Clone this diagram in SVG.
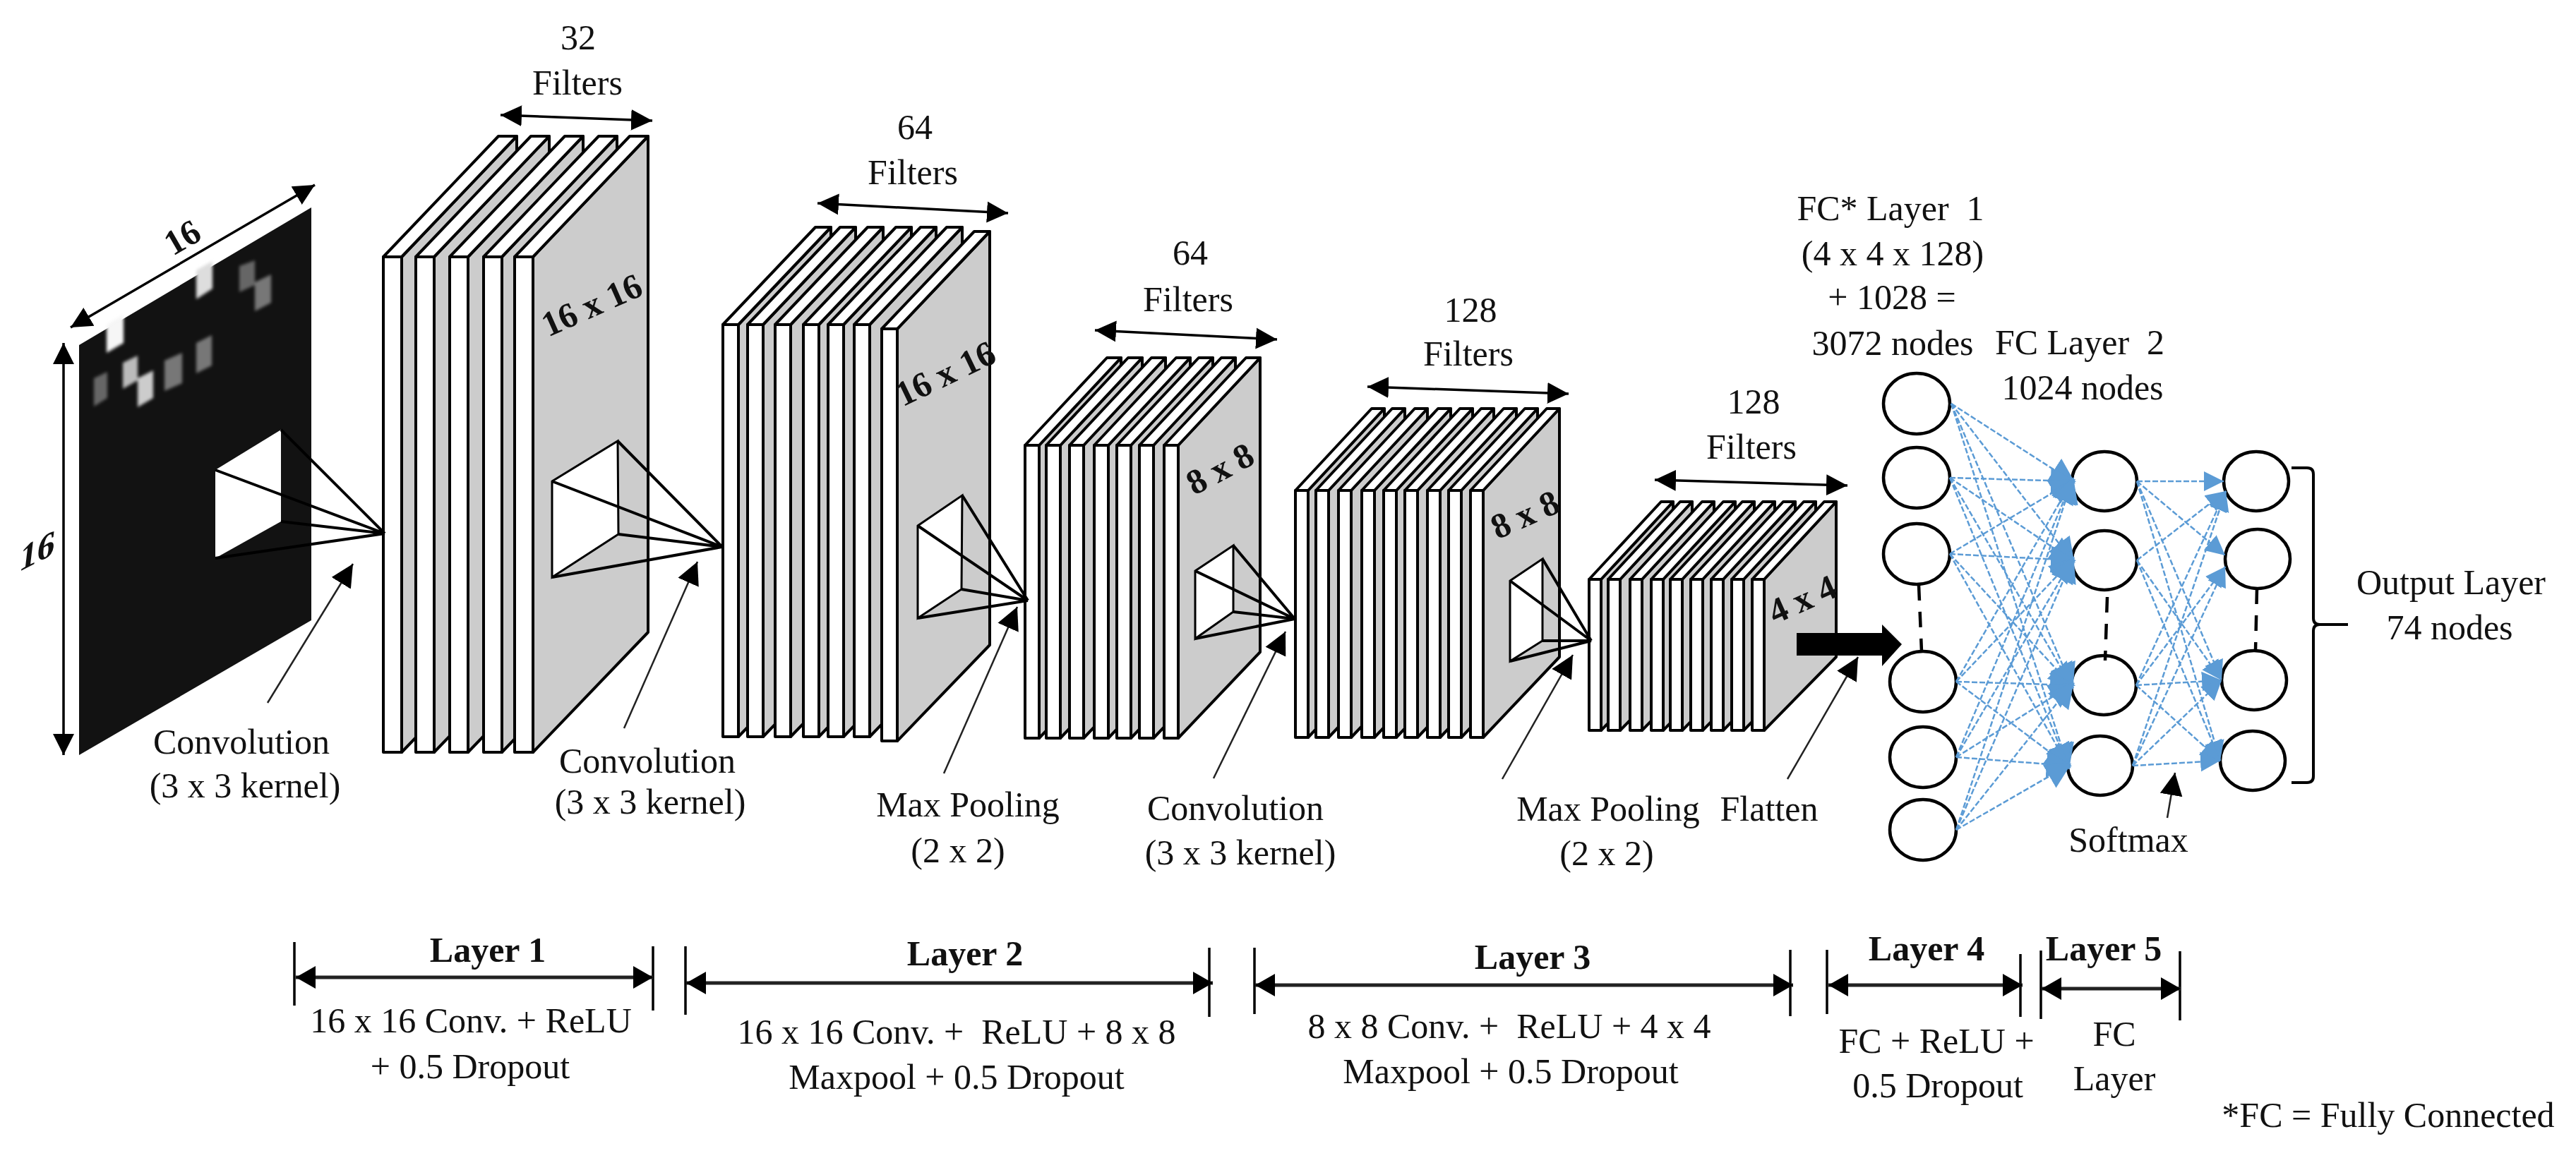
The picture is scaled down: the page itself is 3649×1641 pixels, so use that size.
<svg xmlns="http://www.w3.org/2000/svg" width="3649" height="1641" viewBox="0 0 3649 1641">
<style>
text{font-family:"Liberation Serif","Times New Roman",serif;font-size:50px;fill:#111;text-anchor:middle;white-space:pre}
.b{font-weight:bold}
.f{fill:#fff;stroke:#000;stroke-width:4;stroke-linejoin:round}
.s{fill:#ccc;stroke:#000;stroke-width:4;stroke-linejoin:round}
.w{fill:#fff;stroke:#000;stroke-width:3}
.p{fill:none;stroke:#000;stroke-width:4}
.dim{fill:none;stroke:#000;stroke-width:3.5;marker-start:url(#hs);marker-end:url(#hs)}
.lead{fill:none;stroke:#222;stroke-width:2.5;marker-end:url(#hl)}
.tick{stroke:#000;stroke-width:3.5}
.span{stroke:#222;stroke-width:5;marker-start:url(#hb);marker-end:url(#hb)}
.node{fill:#fff;stroke:#000;stroke-width:4.5}
.dash{stroke:#000;stroke-width:4.5;stroke-dasharray:22 16;fill:none}
.blue line{stroke:#5b9bd5;stroke-width:2.5;stroke-dasharray:8 3;marker-end:url(#hn)}
.blue2 line{stroke:#5b9bd5;stroke-width:2.5;stroke-dasharray:8 3;marker-end:url(#hm)}
</style>
<defs>
<marker id="hs" markerUnits="userSpaceOnUse" markerWidth="32" markerHeight="32" refX="30" refY="16" orient="auto-start-reverse"><path d="M0 1L30 16L0 31Z" fill="#000"/></marker>
<marker id="hl" markerUnits="userSpaceOnUse" markerWidth="36" markerHeight="36" refX="32" refY="18" orient="auto"><path d="M0 2L32 18L0 34Z" fill="#000"/></marker>
<marker id="hb" markerUnits="userSpaceOnUse" markerWidth="30" markerHeight="36" refX="28" refY="18" orient="auto-start-reverse"><path d="M0 2L28 18L0 34Z" fill="#000"/></marker>
<marker id="hn" markerUnits="userSpaceOnUse" markerWidth="40" markerHeight="44" refX="30" refY="22" orient="auto"><path d="M0 3L36 22L0 41Z" fill="#5b9bd5"/></marker>
<marker id="hm" markerUnits="userSpaceOnUse" markerWidth="32" markerHeight="32" refX="28" refY="16" orient="auto"><path d="M0 2L28 16L0 30Z" fill="#5b9bd5"/></marker>
<filter id="soft"><feGaussianBlur stdDeviation="2"/></filter>
<g id="sl1"><polygon class="s" points="26,364 189,193 189,896 26,1066"/><polygon class="f" points="0,364 163,193 189,193 26,364"/><rect class="f" x="0" y="364" width="26" height="702"/></g>
<g id="sl2"><polygon class="s" points="22,460 153,322 153,908 22,1044"/><polygon class="f" points="0,460 131,322 153,322 22,460"/><rect class="f" x="0" y="460" width="22" height="584"/></g>
<g id="sl3"><polygon class="s" points="20,631 136,507 136,924 20,1046"/><polygon class="f" points="0,631 116,507 136,507 20,631"/><rect class="f" x="0" y="631" width="20" height="415"/></g>
<g id="sl4"><polygon class="s" points="18,695 126,579 126,931 18,1045"/><polygon class="f" points="0,695 108,579 126,579 18,695"/><rect class="f" x="0" y="695" width="18" height="350"/></g>
<g id="sl5"><polygon class="s" points="17,821 119,711 119,931 17,1035"/><polygon class="f" points="0,821 102,711 119,711 17,821"/><rect class="f" x="0" y="821" width="17" height="214"/></g>
</defs>
<rect width="3649" height="1641" fill="#fff"/>

<g id="input-image">
<polygon points="112,489 441,294 441,879 112,1070" fill="#121212"/>
<g filter="url(#soft)">
<polygon points="151,460 175,446 175,486 151,500" fill="#f6f6f6"/>
<polygon points="278,383 301,370 301,409 278,424" fill="#ddd"/>
<polygon points="339,377 361,369 361,404 339,414" fill="#666"/>
<polygon points="361,400 384,389 384,429 361,441" fill="#777"/>
<polygon points="133,536 152,527 152,564 133,576" fill="#666"/>
<polygon points="174,514 195,504 195,539 174,551" fill="#bbb"/>
<polygon points="195,536 217,525 217,564 195,577" fill="#ccc"/>
<polygon points="233,511 258,500 258,543 233,554" fill="#777"/>
<polygon points="278,486 300,475 300,518 278,529" fill="#777"/>
</g>
<polygon points="305,666 398,609 398,739 305,791" fill="#fff"/>
<text class="b" transform="translate(258,336) rotate(-30)" y="17">16</text>
<text class="b" transform="translate(53,780) skewY(-27) skewX(-7)" y="17">16</text>
</g>

<g id="stack-1">
<use href="#sl1" x="543"/><use href="#sl1" x="589"/><use href="#sl1" x="637"/><use href="#sl1" x="685"/>
<use href="#sl1" x="729"/>
<text class="b" transform="translate(838,432) rotate(-24)" y="17">16 x 16</text>
<polygon class="w" points="782,682 875,625 876,757 782,818"/>
<text x="819" y="70">32</text><text x="818" y="134">Filters</text>
</g>

<g id="stack-2">
<use href="#sl2" x="1024"/><use href="#sl2" x="1059"/><use href="#sl2" x="1098"/><use href="#sl2" x="1138"/><use href="#sl2" x="1173"/><use href="#sl2" x="1210"/>
<g transform="translate(0,6)"><use href="#sl2" x="1249"/></g>
<text class="b" transform="translate(1339,529) rotate(-25.7)" y="17">16 x 16</text>
<polygon class="w" points="1300,745 1363,702 1362,835 1300,876"/>
<text x="1296" y="197">64</text><text x="1293" y="261">Filters</text>
</g>

<g id="stack-3">
<use href="#sl3" x="1452"/><use href="#sl3" x="1482"/><use href="#sl3" x="1515"/><use href="#sl3" x="1550"/><use href="#sl3" x="1582"/><use href="#sl3" x="1614"/><use href="#sl3" x="1649"/>
<text class="b" transform="translate(1728,664) rotate(-28)" y="17">8 x 8</text>
<polygon class="w" points="1693,809 1747,773 1747,867 1693,905"/>
<text x="1686" y="375">64</text><text x="1683" y="441">Filters</text>
</g>

<g id="stack-4">
<use href="#sl4" x="1835"/><use href="#sl4" x="1864"/><use href="#sl4" x="1896"/><use href="#sl4" x="1929"/><use href="#sl4" x="1960"/><use href="#sl4" x="1990"/><use href="#sl4" x="2022"/><use href="#sl4" x="2052"/><use href="#sl4" x="2083"/>
<text class="b" transform="translate(2160,729) rotate(-24)" y="17">8 x 8</text>
<polygon class="w" points="2139,823 2185,792 2185,908 2139,937"/>
<text x="2083" y="456">128</text><text x="2080" y="518">Filters</text>
</g>

<g id="stack-5">
<use href="#sl5" x="2251"/><use href="#sl5" x="2278"/><use href="#sl5" x="2309"/><use href="#sl5" x="2339"/><use href="#sl5" x="2366"/><use href="#sl5" x="2395"/><use href="#sl5" x="2424"/><use href="#sl5" x="2453"/><use href="#sl5" x="2482"/>
<text class="b" transform="translate(2553,849) rotate(-24)" y="17">4 x 4</text>
<text x="2484" y="586">128</text><text x="2481" y="650">Filters</text>
</g>

<g id="fc-layer-1">
<ellipse class="node" cx="2715" cy="572" rx="47" ry="43"/><ellipse class="node" cx="2715" cy="677" rx="47" ry="43"/><ellipse class="node" cx="2715" cy="785" rx="47" ry="43"/><ellipse class="node" cx="2724" cy="966" rx="47" ry="43"/><ellipse class="node" cx="2724" cy="1073" rx="47" ry="43"/><ellipse class="node" cx="2724" cy="1176" rx="47" ry="43"/>
<text x="2678" y="312">FC* Layer  1</text><text x="2681" y="376">(4 x 4 x 128)</text><text x="2680" y="438">+ 1028 =</text><text x="2681" y="503">3072 nodes</text>
</g>
<g id="fc-layer-2">
<ellipse class="node" cx="2981" cy="682" rx="46" ry="42"/><ellipse class="node" cx="2981" cy="794" rx="46" ry="42"/><ellipse class="node" cx="2980" cy="971" rx="46" ry="42"/><ellipse class="node" cx="2975" cy="1085" rx="46" ry="42"/>
<text x="2946" y="502">FC Layer  2</text><text x="2950" y="566">1024 nodes</text>
</g>
<g id="output-layer">
<ellipse class="node" cx="3196" cy="682" rx="46" ry="42"/><ellipse class="node" cx="3198" cy="792" rx="46" ry="42"/><ellipse class="node" cx="3193" cy="964" rx="46" ry="42"/><ellipse class="node" cx="3191" cy="1078" rx="46" ry="42"/>
<path d="M3246 663H3268Q3277 663 3277 672V876Q3277 885 3286 885H3326M3286 885Q3277 885 3277 894V1100Q3277 1109 3268 1109H3246" fill="none" stroke="#000" stroke-width="4"/>
<text x="3472" y="842">Output Layer</text><text x="3470" y="906">74 nodes</text>
</g>

<g id="connectors">
<g id="window-rays" class="rays">
<path class="p" d="M398 609L545 756M398 739L545 756M305 666L545 756M305 791L545 756"/>
<path class="p" d="M875 625L1023 775M876 757L1023 775M782 682L1023 775M782 818L1023 775"/>
<path class="p" d="M1363 702L1456 851M1362 835L1456 851M1300 745L1456 851M1300 876L1456 851"/>
<path class="p" d="M1747 773L1834 877M1747 867L1834 877M1693 809L1834 877M1693 905L1834 877"/>
<path class="p" d="M2185 792L2254 908M2185 908L2254 908M2139 823L2254 908M2139 937L2254 908"/>
</g>
<line class="dim" x1="100" y1="464" x2="446" y2="262"/>
<line class="dim" x1="90" y1="486" x2="90" y2="1070"/>
<line class="dim" x1="709" y1="163" x2="924" y2="171"/>
<line class="dim" x1="1158" y1="288" x2="1428" y2="302"/>
<line class="dim" x1="1551" y1="468" x2="1809" y2="481"/>
<line class="dim" x1="1937" y1="548" x2="2222" y2="558"/>
<line class="dim" x1="2344" y1="680" x2="2617" y2="688"/>
<line class="lead" x1="379" y1="996" x2="500" y2="799"/>
<line class="lead" x1="884" y1="1032" x2="988" y2="796"/>
<line class="lead" x1="1337" y1="1096" x2="1441" y2="860"/>
<line class="lead" x1="1719" y1="1103" x2="1821" y2="895"/>
<line class="lead" x1="2128" y1="1104" x2="2228" y2="928"/>
<line class="lead" x1="2532" y1="1104" x2="2632" y2="931"/>
<line class="lead" x1="3070" y1="1159" x2="3081" y2="1095"/>
<polygon points="2545,897 2666,897 2666,885 2694,913 2666,944 2666,929 2545,929" fill="#000"/>
<g class="blue">
<line x1="2764" y1="572" x2="2935" y2="682"/><line x1="2764" y1="572" x2="2935" y2="794"/><line x1="2764" y1="572" x2="2934" y2="971"/><line x1="2764" y1="572" x2="2929" y2="1085"/>
<line x1="2762" y1="677" x2="2935" y2="682"/><line x1="2762" y1="677" x2="2935" y2="794"/><line x1="2762" y1="677" x2="2934" y2="971"/><line x1="2762" y1="677" x2="2929" y2="1085"/>
<line x1="2762" y1="785" x2="2935" y2="682"/><line x1="2762" y1="785" x2="2935" y2="794"/><line x1="2762" y1="785" x2="2934" y2="971"/><line x1="2762" y1="785" x2="2929" y2="1085"/>
<line x1="2771" y1="966" x2="2935" y2="682"/><line x1="2771" y1="966" x2="2935" y2="794"/><line x1="2771" y1="966" x2="2934" y2="971"/><line x1="2771" y1="966" x2="2929" y2="1085"/>
<line x1="2771" y1="1073" x2="2935" y2="682"/><line x1="2771" y1="1073" x2="2935" y2="794"/><line x1="2771" y1="1073" x2="2934" y2="971"/><line x1="2771" y1="1073" x2="2929" y2="1085"/>
<line x1="2771" y1="1176" x2="2935" y2="682"/><line x1="2771" y1="1176" x2="2935" y2="794"/><line x1="2771" y1="1176" x2="2934" y2="971"/><line x1="2771" y1="1176" x2="2929" y2="1085"/>
</g>
<g class="blue2">
<line x1="3027" y1="682" x2="3150" y2="682"/><line x1="3027" y1="682" x2="3152" y2="787"/><line x1="3027" y1="682" x2="3147" y2="964"/><line x1="3027" y1="682" x2="3145" y2="1078"/>
<line x1="3027" y1="794" x2="3153" y2="696"/><line x1="3027" y1="794" x2="3147" y2="964"/><line x1="3027" y1="794" x2="3145" y2="1078"/>
<line x1="3026" y1="971" x2="3153" y2="696"/><line x1="3026" y1="971" x2="3152" y2="803"/><line x1="3026" y1="971" x2="3147" y2="964"/><line x1="3026" y1="971" x2="3145" y2="1078"/>
<line x1="3021" y1="1085" x2="3153" y2="696"/><line x1="3021" y1="1085" x2="3152" y2="803"/><line x1="3021" y1="1085" x2="3147" y2="964"/><line x1="3021" y1="1085" x2="3145" y2="1078"/>
</g>
<line class="dash" x1="2718" y1="829" x2="2722" y2="923"/>
<line class="dash" x1="2985" y1="846" x2="2982" y2="936"/>
<line class="dash" x1="3197" y1="834" x2="3195" y2="922"/>
</g>

<g id="operation-labels">
<text x="342" y="1068">Convolution</text><text x="347" y="1130">(3 x 3 kernel)</text>
<text x="917" y="1095">Convolution</text><text x="921" y="1153">(3 x 3 kernel)</text>
<text x="1371" y="1157">Max Pooling</text><text x="1357" y="1222">(2 x 2)</text>
<text x="1750" y="1162">Convolution</text><text x="1757" y="1225">(3 x 3 kernel)</text>
<text x="2278" y="1163">Max Pooling</text><text x="2276" y="1226">(2 x 2)</text>
<text x="2506" y="1163">Flatten</text>
<text x="3015" y="1207">Softmax</text>
</g>

<g id="layer-1">
<line class="tick" x1="417" y1="1335" x2="417" y2="1425"/><line class="tick" x1="925" y1="1341" x2="925" y2="1432"/>
<line class="span" x1="419" y1="1385" x2="925" y2="1385"/>
<text class="b" x="691" y="1363">Layer 1</text><text x="667" y="1463">16 x 16 Conv. + ReLU</text><text x="666" y="1528">+ 0.5 Dropout</text>
</g>
<g id="layer-2">
<line class="tick" x1="971" y1="1341" x2="971" y2="1438"/><line class="tick" x1="1713" y1="1343" x2="1713" y2="1441"/>
<line class="span" x1="972" y1="1393" x2="1718" y2="1393"/>
<text class="b" x="1367" y="1368">Layer 2</text><text x="1355" y="1479">16 x 16 Conv. +  ReLU + 8 x 8</text><text x="1355" y="1543">Maxpool + 0.5 Dropout</text>
</g>
<g id="layer-3">
<line class="tick" x1="1777" y1="1343" x2="1777" y2="1437"/><line class="tick" x1="2536" y1="1346" x2="2536" y2="1440"/>
<line class="span" x1="1778" y1="1396" x2="2540" y2="1396"/>
<text class="b" x="2171" y="1373">Layer 3</text><text x="2138" y="1471">8 x 8 Conv. +  ReLU + 4 x 4</text><text x="2140" y="1535">Maxpool + 0.5 Dropout</text>
</g>
<g id="layer-4">
<line class="tick" x1="2588" y1="1346" x2="2588" y2="1437"/><line class="tick" x1="2862" y1="1352" x2="2862" y2="1441"/>
<line class="span" x1="2590" y1="1396" x2="2865" y2="1396"/>
<text class="b" x="2729" y="1361">Layer 4</text><text x="2743" y="1492">FC + ReLU +</text><text x="2745" y="1555">0.5 Dropout</text>
</g>
<g id="layer-5">
<line class="tick" x1="2891" y1="1347" x2="2891" y2="1444"/><line class="tick" x1="3088" y1="1348" x2="3088" y2="1446"/>
<line class="span" x1="2892" y1="1401" x2="3089" y2="1401"/>
<text class="b" x="2980" y="1361">Layer 5</text><text x="2995" y="1482">FC</text><text x="2995" y="1545">Layer</text>
</g>
<g id="footnote"><text x="3383" y="1597">*FC = Fully Connected</text></g>
</svg>
